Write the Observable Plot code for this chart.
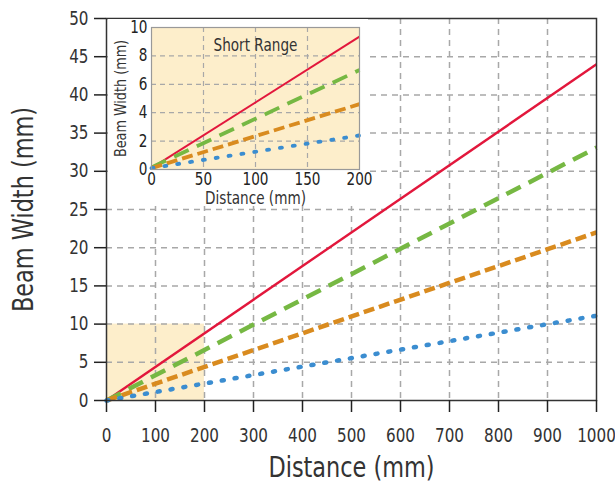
<!DOCTYPE html>
<html><head><meta charset="utf-8">
<script src="https://cdn.jsdelivr.net/npm/d3@7"></script>
<script src="https://cdn.jsdelivr.net/npm/@observablehq/plot@0.6"></script>
<style>
body{margin:0;background:#fff;}
#wrap{position:relative;width:615px;height:488px;}
#inset{position:absolute;left:108px;top:19px;}
svg{font-family:"DejaVu Sans",sans-serif;overflow:visible;}
</style></head><body><div id="wrap"><div id="main"></div><div id="inset"></div></div>
<script>
// Series
const seriesNames = ["Red", "Green", "Orange", "Blue"];
const seriesColors = ["#e2173c", "#76b843", "#d98b1f", "#3b8dd0"];
// Main chart (long range)
const mainDistance = [0, 1000];
const mainRed = [0, 44.0];
const mainGreen = [0, 33.1];
const mainOrange = [0, 22.0];
const mainBlue = [0, 11.1];
// Inset (short range)
const insetDistance = [0, 200];
const insetRed = [0.1, 9.35];
const insetGreen = [0.15, 7.0];
const insetOrange = [0.1, 4.6];
const insetBlue = [0.1, 2.4];
// Ticks
const mainXTicks = [0,100,200,300,400,500,600,700,800,900,1000];
const mainYTicks = [0,5,10,15,20,25,30,35,40,45,50];
const insetXTicks = [0,50,100,150,200];
const insetYTicks = [0,2,4,6,8,10];
// Short range highlight region
const shortRangeX = [0, 200];
const shortRangeY = [0, 10];

const styles = [
  {w: 2.4, dash: null, cap: "butt"},
  {w: 4.5, dash: "16,9", cap: "butt"},
  {w: 4.5, dash: "11,5", cap: "butt"},
  {w: 4.5, dash: "2,11", cap: "round"}
];
const mainVals = [mainRed, mainGreen, mainOrange, mainBlue];
const insetVals = [insetRed, insetGreen, insetOrange, insetBlue];
function lines(dist, vals, scaleW) {
  return vals.map((v, i) => Plot.line(dist.map((d, j) => ({x: d, y: v[j], s: seriesNames[i]})), {
    x: "x", y: "y", stroke: seriesColors[i], strokeWidth: styles[i].w * scaleW,
    strokeDasharray: styles[i].dash, strokeLinecap: styles[i].cap
  }));
}
const grid = {stroke: "#a8a8a8", strokeOpacity: 1, strokeWidth: 1.5, strokeDasharray: "6,5"};
const fmt = d => String(d);

const main = Plot.plot({
  width: 615, height: 488,
  marginLeft: 106, marginRight: 19, marginTop: 18, marginBottom: 88,
  x: {domain: [0, 1000]}, y: {domain: [0, 50]},
  marks: [
    Plot.rect([{x1: shortRangeX[0], x2: shortRangeX[1], y1: shortRangeY[0], y2: shortRangeY[1]}],
      {x1: "x1", x2: "x2", y1: "y1", y2: "y2", fill: "#fdeecb"}),
    Plot.gridX(mainXTicks.slice(1, -1), grid),
    Plot.gridY(mainYTicks.slice(1, -1), grid),
    ...lines(mainDistance, mainVals, 1),
    Plot.frame({stroke: "#333", strokeWidth: 1.5}),
    Plot.axisX(mainXTicks, {tickSize: 12, tickPadding: 16, fontSize: 19, stroke: "#222", strokeWidth: 1.5, fill: "#333", label: null, tickFormat: fmt}),
    Plot.axisY(mainYTicks, {tickSize: 12, tickPadding: 6, fontSize: 19, stroke: "#222", strokeWidth: 1.5, fill: "#333", label: null, tickFormat: fmt}),
    Plot.text(["Distance (mm)"], {frameAnchor: "bottom", dy: 76, fontSize: 28, fill: "#333", text: d => d}),
    Plot.text(["Beam Width (mm)"], {frameAnchor: "left", textAnchor: "middle", dx: -82, rotate: -90, fontSize: 28, fill: "#333", text: d => d})
  ]
});
document.getElementById("main").appendChild(main);

const inset = Plot.plot({
  width: 260, height: 187,
  marginLeft: 43, marginRight: 9, marginTop: 8, marginBottom: 37,
  x: {domain: [0, 200]}, y: {domain: [0, 10]},
  style: {background: "#fff"},
  marks: [
    Plot.frame({fill: "#fdeecb"}),
    Plot.gridX(insetXTicks.slice(1, -1), {...grid, strokeWidth: 1.2, strokeDasharray: "5,4"}),
    Plot.gridY(insetYTicks.slice(1, -1), {...grid, strokeWidth: 1.2, strokeDasharray: "5,4"}),
    ...lines(insetDistance, insetVals, 0.85),
    Plot.frame({stroke: "#999", strokeWidth: 1.2}),
    Plot.axisX(insetXTicks, {tickSize: 0, tickPadding: 3, fontSize: 17, fill: "#222", label: null, tickFormat: fmt}),
    Plot.axisY(insetYTicks, {tickSize: 0, tickPadding: 4, fontSize: 17, fill: "#222", label: null, tickFormat: fmt}),
    Plot.text(["Short Range"], {frameAnchor: "top", dy: 11, fontSize: 17, fill: "#333", text: d => d}),
    Plot.text(["Distance (mm)"], {frameAnchor: "bottom", dy: 34, fontSize: 17, fill: "#333", text: d => d}),
    Plot.text(["Beam Width (mm)"], {frameAnchor: "left", textAnchor: "middle", dx: -31, rotate: -90, fontSize: 16, fill: "#333", text: d => d})
  ]
});
document.getElementById("inset").appendChild(inset);

// Condense glyphs to mimic the reference's condensed typeface
for (const t of document.querySelectorAll("svg text")) {
  const len = t.getComputedTextLength();
  if (len > 0) {
    t.setAttribute("textLength", (len * 0.8).toFixed(2));
    t.setAttribute("lengthAdjust", "spacingAndGlyphs");
  }
}
</script></body></html>
